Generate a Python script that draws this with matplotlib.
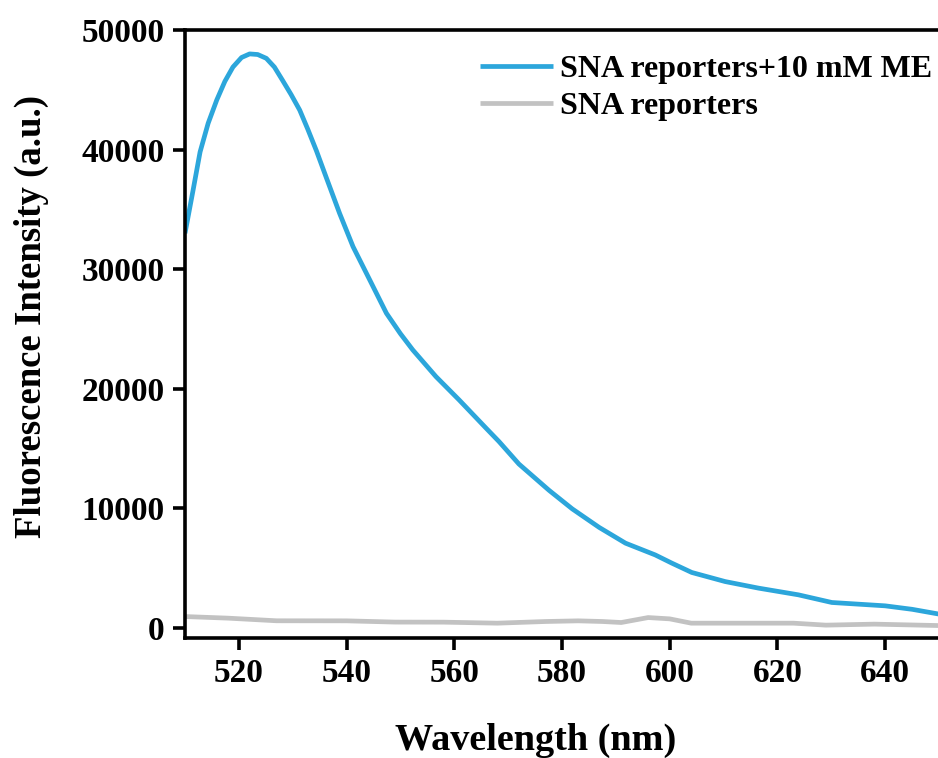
import matplotlib
matplotlib.use("Agg")
import matplotlib.pyplot as plt

# Emission spectra (wavelength in nm, intensity in a.u.)
wl_me = [510, 511.5, 512.8, 514.3, 515.9, 517.4, 518.9, 520.5, 522.0, 523.5,
         525.1, 526.6, 528.1, 529.7, 531.3, 532.8, 534.4, 536.2, 538.7, 541.2,
         544.3, 547.4, 550.0, 552.3, 556.6, 560.9, 565.9, 568.3, 572.0, 577.6,
         581.9, 586.9, 591.8, 597.3, 600.4, 604.1, 610.3, 616.5, 623.9, 630.1,
         640.0, 645.0, 650.0]
int_me = [33000, 36600, 39800, 42200, 44150, 45700, 46900, 47700, 48000, 47950,
          47630, 46900, 45800, 44600, 43300, 41700, 39900, 37700, 34670, 31880,
          29100, 26310, 24600, 23240, 21010, 19060, 16700, 15580, 13700, 11500,
          9950, 8400, 7080, 6100, 5410, 4630, 3870, 3320, 2760, 2120,
          1840, 1550, 1150]

wl_ctrl = [510, 518, 527, 540, 549, 558, 568, 577, 583, 587.5,
           591, 596, 600, 604, 613, 623, 629, 638, 650]
int_ctrl = [945, 810, 590, 585, 480, 475, 390, 530, 585, 530,
            445, 860, 750, 390, 390, 390, 225, 310, 190]

labels = ["SNA reporters+10 mM ME", "SNA reporters"]
colors = ["#2CA6DB", "#C2C2C2"]

x_ticks = [520, 540, 560, 580, 600, 620, 640]
y_ticks = [0, 10000, 20000, 30000, 40000, 50000]

plt.rcParams["font.family"] = ["Liberation Serif", "DejaVu Serif"]
plt.rcParams["font.weight"] = "bold"

fig = plt.figure(figsize=(9.38, 7.58), dpi=100)
ax = fig.add_axes([185 / 938, 1 - 638 / 758, 754 / 938, 608 / 758])

line_kw = dict(lw=3.4, solid_joinstyle="round", solid_capstyle="butt")
ax.plot(wl_me, int_me, color=colors[0], label=labels[0], **line_kw)
ax.plot(wl_ctrl, int_ctrl, color=colors[1], label=labels[1], **line_kw)

ax.set_xlim(510, 650)
ax.set_ylim(-850, 50000)
ax.set_xticks(x_ticks)
ax.set_yticks(y_ticks)

for s in ax.spines.values():
    s.set_linewidth(2.6)

ax.tick_params(axis="both", which="major", direction="out", length=8.5,
               width=2.6, labelsize=24, pad=6)
for lab in ax.get_xticklabels() + ax.get_yticklabels():
    lab.set_fontweight("bold")

ax.set_xlabel("Wavelength (nm)", fontsize=27.5, fontweight="bold")
ax.set_ylabel("Fluorescence Intensity (a.u.)", fontsize=26.5, fontweight="bold")
ax.xaxis.set_label_coords((536 - 185) / 754, (638 - 723) / 608)
ax.yaxis.set_label_coords((49 - 185) / 754, (638 - 316) / 608)

ax.legend(loc="upper right", bbox_to_anchor=(1.0074, 0.981), frameon=False,
          handlelength=2.28, handletextpad=0.22, labelspacing=0.25,
          borderaxespad=0.0, prop={"weight": "bold", "size": 23})

fig.savefig("out.png", dpi=100, facecolor="white")
